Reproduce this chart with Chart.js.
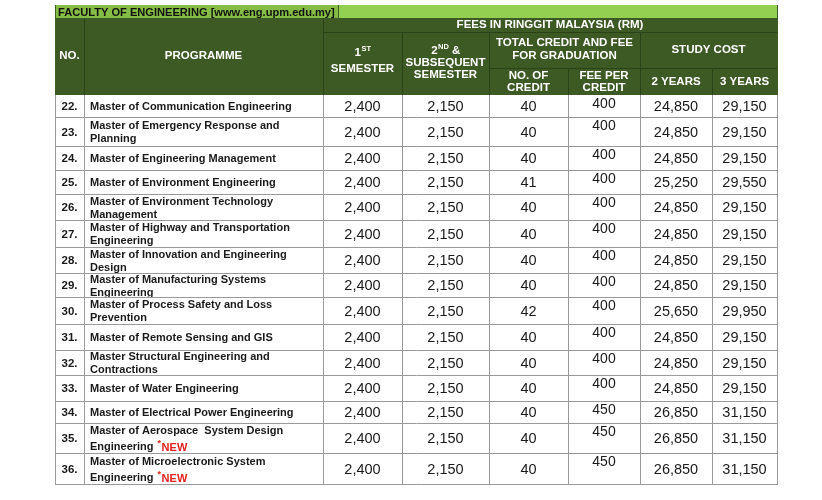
<!DOCTYPE html>
<html>
<head>
<meta charset="utf-8">
<script src="https://cdn.jsdelivr.net/npm/chart.js@4.4.1/dist/chart.umd.min.js"></script>
<style>
  body { margin: 0; background: #fff; }
</style>
</head>
<body>
<canvas id="feeTable" width="822" height="500"></canvas>
<script>
(function(){
    // table data
    const rowNo = ['22.', '23.', '24.', '25.', '26.', '27.', '28.', '29.', '30.', '31.', '32.', '33.', '34.', '35.', '36.'];
    const programmes = [
        ['Master of Communication Engineering'],
        ['Master of Emergency Response and', 'Planning'],
        ['Master of Engineering Management'],
        ['Master of Environment Engineering'],
        ['Master of Environment Technology', 'Management'],
        ['Master of Highway and Transportation', 'Engineering'],
        ['Master of Innovation and Engineering', 'Design'],
        ['Master of Manufacturing Systems', 'Engineering'],
        ['Master of Process Safety and Loss', 'Prevention'],
        ['Master of Remote Sensing and GIS'],
        ['Master Structural Engineering and', 'Contractions'],
        ['Master of Water Engineering'],
        ['Master of Electrical Power Engineering'],
        ['Master of Aerospace  System Design', 'Engineering'],
        ['Master of Microelectronic System', 'Engineering']
    ];
    const isNew = [false, false, false, false, false, false, false, false, false, false, false, false, false, true, true];
    const firstSemester = [2400, 2400, 2400, 2400, 2400, 2400, 2400, 2400, 2400, 2400, 2400, 2400, 2400, 2400, 2400];
    const subsequentSemester = [2150, 2150, 2150, 2150, 2150, 2150, 2150, 2150, 2150, 2150, 2150, 2150, 2150, 2150, 2150];
    const credits = [40, 40, 40, 41, 40, 40, 40, 40, 42, 40, 40, 40, 40, 40, 40];
    const feePerCredit = [400, 400, 400, 400, 400, 400, 400, 400, 400, 400, 400, 400, 450, 450, 450];
    const cost2Years = [24850, 24850, 24850, 25250, 24850, 24850, 24850, 24850, 25650, 24850, 24850, 24850, 26850, 26850, 26850];
    const cost3Years = [29150, 29150, 29150, 29550, 29150, 29150, 29150, 29150, 29950, 29150, 29150, 29150, 31150, 31150, 31150];

    const title = 'FACULTY OF ENGINEERING [www.eng.upm.edu.my]';
    const feesHeader = 'FEES IN RINGGIT MALAYSIA (RM)';

    // layout (scale units)
    const colEdges = [0, 29, 268, 347, 434, 513, 585, 657, 722];
    const titleCellEnd = 283;
    const bands = [0, 13, 27, 63, 90];
    const rowHeights = [22, 29, 24, 24, 26, 27, 26, 24, 27, 26, 25, 26, 22, 30, 31];
    const rowTops = [];
    rowHeights.reduce((t, h) => { rowTops.push(t); return t + h; }, bands[4]);
    const tableBottom = rowTops[rowTops.length - 1] + rowHeights[rowHeights.length - 1];

    const FONT = "'Liberation Sans', Arial, sans-serif";
    const fmt = v => v.toLocaleString('en-US');

    const tablePlugin = {
        id: 'feeTable',
        afterDraw(chart) {
            const ctx = chart.ctx;
            const x = chart.scales.x, y = chart.scales.y;
            const X = v => Math.round(x.getPixelForValue(v));
            const Y = v => Math.round(y.getPixelForValue(v));

            function text(str, px, py, font, color, align) {
                ctx.font = font;
                ctx.fillStyle = color;
                ctx.textAlign = align || 'center';
                ctx.textBaseline = 'middle';
                ctx.fillText(str, px, py);
            }
            // "1ST", "2ND &" style labels
            function supText(base, sup, rest, cx, py, color) {
                const f1 = 'bold 11.5px ' + FONT, f2 = 'bold 7.5px ' + FONT;
                ctx.font = f1; const w1 = ctx.measureText(base).width, w3 = ctx.measureText(rest).width;
                ctx.font = f2; const w2 = ctx.measureText(sup).width;
                const sx = cx - (w1 + w2 + w3) / 2;
                text(base, sx, py, f1, color, 'left');
                text(sup, sx + w1 + 0.5, py - 4, f2, color, 'left');
                if (rest) text(rest, sx + w1 + w2 + 0.5, py, f1, color, 'left');
            }
            function hline(c0, c1, v, color) {
                ctx.strokeStyle = color; ctx.lineWidth = 1;
                ctx.beginPath(); ctx.moveTo(X(c0), Y(v) + 0.5); ctx.lineTo(X(c1) + 1, Y(v) + 0.5); ctx.stroke();
            }
            function vline(c, v0, v1, color) {
                ctx.strokeStyle = color; ctx.lineWidth = 1;
                ctx.beginPath(); ctx.moveTo(X(c) + 0.5, Y(v0)); ctx.lineTo(X(c) + 0.5, Y(v1)); ctx.stroke();
            }
            const mid = (a, b) => (X(a) + X(b)) / 2;

            ctx.save();
            // title bar
            ctx.fillStyle = '#84bc45';
            ctx.fillRect(X(0), Y(bands[0]), X(titleCellEnd) - X(0), Y(bands[1]) - Y(bands[0]));
            ctx.fillStyle = '#93d052';
            ctx.fillRect(X(titleCellEnd), Y(bands[0]), X(colEdges[8]) - X(titleCellEnd), Y(bands[1]) - Y(bands[0]));
            text(title, X(0) + 3, (Y(bands[0]) + Y(bands[1])) / 2 + 1, 'bold 11.1px ' + FONT, '#111', 'left');
            vline(titleCellEnd, bands[0], bands[1], '#3f5f25');

            // dark header
            const hdr = '#3d5a25', hdrLine = '#2a4216';
            ctx.fillStyle = hdr;
            ctx.fillRect(X(0), Y(bands[1]), X(colEdges[8]) - X(0) + 1, Y(bands[4]) - Y(bands[1]));
            hline(colEdges[2], colEdges[8], bands[2], hdrLine);
            hline(colEdges[4], colEdges[8], bands[3], hdrLine);
            vline(colEdges[1], bands[1], bands[4], hdrLine);
            vline(colEdges[2], bands[1], bands[4], hdrLine);
            vline(colEdges[3], bands[2], bands[4], hdrLine);
            vline(colEdges[4], bands[2], bands[4], hdrLine);
            vline(colEdges[5], bands[3], bands[4], hdrLine);
            vline(colEdges[6], bands[2], bands[4], hdrLine);
            vline(colEdges[7], bands[3], bands[4], hdrLine);

            const hf = 'bold 11.5px ' + FONT, W = '#fff';
            text(feesHeader, mid(colEdges[2], colEdges[8]), Y(20), hf, W);
            text('NO.', mid(colEdges[0], colEdges[1]), Y(51), hf, W);
            text('PROGRAMME', mid(colEdges[1], colEdges[2]), Y(51), hf, W);
            supText('1', 'ST', '', mid(colEdges[2], colEdges[3]), Y(48), W);
            text('SEMESTER', mid(colEdges[2], colEdges[3]), Y(64), hf, W);
            supText('2', 'ND', ' &', mid(colEdges[3], colEdges[4]), Y(46), W);
            text('SUBSEQUENT', mid(colEdges[3], colEdges[4]), Y(58), hf, W);
            text('SEMESTER', mid(colEdges[3], colEdges[4]), Y(70), hf, W);
            text('TOTAL CREDIT AND FEE', mid(colEdges[4], colEdges[6]), Y(38), hf, W);
            text('FOR GRADUATION', mid(colEdges[4], colEdges[6]), Y(51), hf, W);
            text('STUDY COST', mid(colEdges[6], colEdges[8]), Y(45), hf, W);
            text('NO. OF', mid(colEdges[4], colEdges[5]), Y(71), hf, W);
            text('CREDIT', mid(colEdges[4], colEdges[5]), Y(83), hf, W);
            text('FEE PER', mid(colEdges[5], colEdges[6]), Y(71), hf, W);
            text('CREDIT', mid(colEdges[5], colEdges[6]), Y(83), hf, W);
            text('2 YEARS', mid(colEdges[6], colEdges[7]), Y(77), hf, W);
            text('3 YEARS', mid(colEdges[7], colEdges[8]), Y(77), hf, W);

            // body rows
            const grid = '#9a9a9a';
            const bf = 'bold 11px ' + FONT, nf = '14.5px ' + FONT, ink = '#1a1a1a';
            rowNo.forEach((no, i) => {
                const top = rowTops[i], h = rowHeights[i];
                const cy = (Y(top) + Y(top + h)) / 2 + 1;
                text(no, mid(colEdges[0], colEdges[1]), cy, 'bold 11.5px ' + FONT, ink);
                const lines = programmes[i];
                const px = X(colEdges[1]) + 6;
                if (lines.length === 1) {
                    text(lines[0], px, cy, bf, ink, 'left');
                } else {
                    const gap = h >= 30 ? 8 : 6.5;
                    text(lines[0], px, cy - gap, bf, ink, 'left');
                    text(lines[1], px, cy + gap, bf, ink, 'left');
                    if (isNew[i]) {
                        ctx.font = bf;
                        const w = ctx.measureText(lines[1] + ' ').width;
                        text('*', px + w + 1, cy + gap - 3, 'bold 9px ' + FONT, '#e3211f', 'left');
                        text('NEW', px + w + 5, cy + gap + 1, bf, '#e3211f', 'left');
                    }
                }
                text(fmt(firstSemester[i]), mid(colEdges[2], colEdges[3]), cy, nf, ink);
                text(fmt(subsequentSemester[i]), mid(colEdges[3], colEdges[4]), cy, nf, ink);
                text(fmt(credits[i]), mid(colEdges[4], colEdges[5]), cy, nf, ink);
                text(fmt(feePerCredit[i]), mid(colEdges[5], colEdges[6]), Y(top) + 9, '14px ' + FONT, ink);
                text(fmt(cost2Years[i]), mid(colEdges[6], colEdges[7]), cy, nf, ink);
                text(fmt(cost3Years[i]), mid(colEdges[7], colEdges[8]), cy, nf, ink);
                if (i > 0) hline(colEdges[0], colEdges[8], top, grid);
            });
            hline(colEdges[0], colEdges[8], tableBottom, grid);
            colEdges.forEach(c => vline(c, bands[4], tableBottom, grid));
            vline(colEdges[0], bands[0], bands[4], '#3f5f25');
            vline(colEdges[8], bands[0], bands[4], '#3f5f25');
            ctx.restore();
        }
    };

    const ctx = document.getElementById('feeTable');
    new Chart(ctx, {
        type: 'scatter',
        data: { datasets: [] },
        options: {
            responsive: false,
            animation: false,
            layout: { padding: { left: 55, right: 45, top: 5, bottom: 500 - 5 - tableBottom } },
            plugins: { legend: { display: false }, tooltip: { enabled: false } },
            scales: {
                x: { type: 'linear', min: colEdges[0], max: colEdges[colEdges.length - 1], display: false },
                y: { type: 'linear', min: bands[0], max: tableBottom, reverse: true, display: false }
            }
        },
        plugins: [tablePlugin]
    });
})()
</script>
</body>
</html>
